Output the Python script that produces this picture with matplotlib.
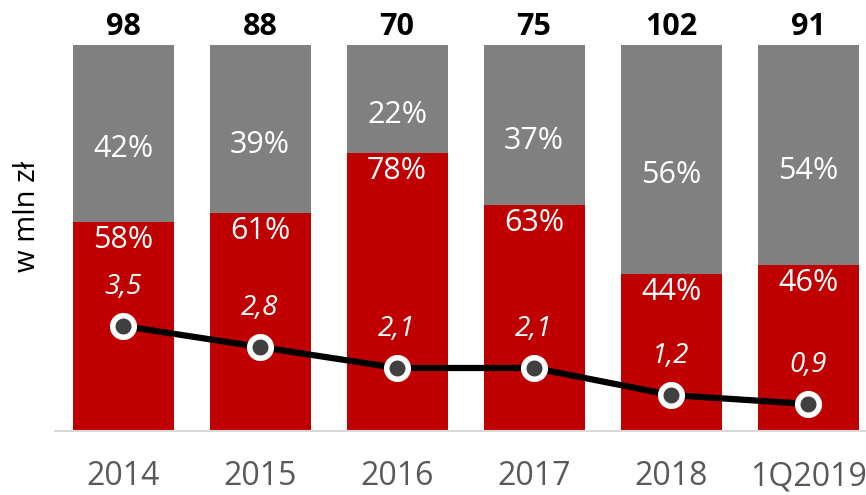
import numpy as np
import matplotlib.pyplot as plt

plt.rcParams['font.family'] = ['Open Sans', 'DejaVu Sans']

categories = ['2014', '2015', '2016', '2017', '2018', '1Q2019']
totals = [98, 88, 70, 75, 102, 91]
# labels as printed on the chart
red_labels = ['58%', '61%', '78%', '63%', '44%', '46%']
gray_labels = ['42%', '39%', '22%', '37%', '56%', '54%']
# segment heights as drawn (% of bar height)
red_height = [54.2, 56.4, 72.1, 58.5, 40.8, 43.0]
gray_height = [45.8, 43.6, 27.9, 41.5, 59.2, 57.0]
line_values = [3.5, 2.8, 2.1, 2.1, 1.2, 0.9]
line_labels = ['3,5', '2,8', '2,1', '2,1', '1,2', '0,9']

red = '#C00000'
gray = '#808080'

fig = plt.figure(figsize=(8.66, 4.95), dpi=100)
ax = fig.add_axes([0.063, 0.1293, 0.937, 0.7798])

x = np.arange(len(categories))
w = 0.737
ax.bar(x, red_height, w, color=red)
ax.bar(x, gray_height, w, bottom=red_height, color=gray)

for i in range(len(x)):
    ax.annotate(red_labels[i], (x[i], red_height[i]), xytext=(0, -18),
                textcoords='offset pixels', ha='center', va='center',
                color='white', fontsize=22)
    mid = red_height[i] + gray_height[i] / 2
    ax.annotate(gray_labels[i], (x[i], mid), xytext=(0, -16),
                textcoords='offset pixels', ha='center', va='center',
                color='white', fontsize=22)
    ax.annotate(str(totals[i]), (x[i], 100), xytext=(0, 18),
                textcoords='offset pixels', ha='center', va='center',
                color='black', fontsize=22, fontweight='bold')

ax.set_ylim(0, 100)
ax.set_xlim(-0.5, 5.423)
ax.set_yticks([])
ax.set_xticks(x)
ax.set_xticklabels(categories, fontsize=23, color='#595959')
ax.tick_params(axis='x', length=0, pad=21)
for s in ['top', 'right', 'left']:
    ax.spines[s].set_visible(False)
ax.spines['bottom'].set_color('#D9D9D9')
ax.spines['bottom'].set_linewidth(1.5)
ax.set_ylabel('w mln zł', fontsize=21)
ax.yaxis.set_label_coords(-0.016, 0.557)

ax2 = ax.twinx()
ax2.set_ylim(0, 386 / 30)
ax2.plot(x, line_values, color='black', lw=4.5, marker='o', ms=15.5,
         mfc='#404040', mec='white', mew=4, zorder=5)
for i in range(len(x)):
    ax2.annotate(line_labels[i], (x[i], line_values[i]), xytext=(0, 39),
                 textcoords='offset pixels', ha='center', va='center',
                 color='white', fontsize=20, style='italic')
ax2.axis('off')

fig.savefig('out.png', dpi=100)
